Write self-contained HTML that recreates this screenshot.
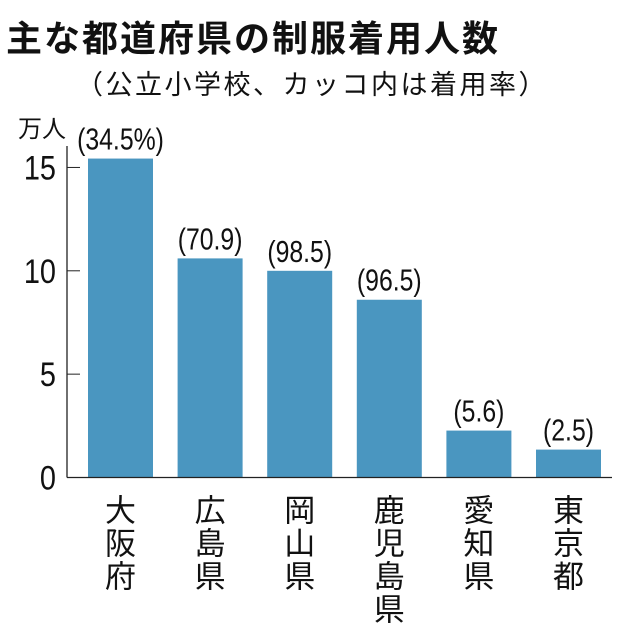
<!DOCTYPE html>
<html><head><meta charset="utf-8"><style>
body{margin:0;background:#fff;}
svg text{font-family:"Liberation Sans","Noto Sans CJK JP",sans-serif;fill:#111;}
</style></head><body>
<svg width="630" height="630">
<text x="6" y="51" font-size="36" font-weight="bold" letter-spacing="2">主な都道府県の制服着用人数</text>
<text x="76" y="94" font-size="27" letter-spacing="2.5">（公立小学校、カッコ内は着用率）</text>
<text x="18" y="137" font-size="24">万人</text>
<g id="plot"></g>
</svg>
<script>
const categories=["大阪府","広島県","岡山県","鹿児島県","愛知県","東京都"];
const values=[15.43,10.6,10.0,8.6,2.27,1.35];
const rates=["(34.5%)","(70.9)","(98.5)","(96.5)","(5.6)","(2.5)"];
const ticks=[0,5,10,15];
const NS="http://www.w3.org/2000/svg";
const g=document.getElementById('plot');
const y0=477.5,k=20.67,x0=67;
const y=v=>y0-v*k;
const xc=i=>120.5+i*89.6;
function mk(t,a,txt){const e=document.createElementNS(NS,t);for(const n in a)e.setAttribute(n,a[n]);if(txt!=null)e.textContent=txt;g.appendChild(e);return e;}
values.forEach((v,i)=>{
 const b=mk('rect',{x:xc(i)-32.5,y:y(v),width:65,height:y0-y(v),fill:'#4a96c0'});
 
 
 const t=mk('text',{transform:`translate(${xc(i)},${y(v)-9}) scale(0.8,1)`,'font-size':31,'text-anchor':'middle'},rates[i]);
 
 
 [...categories[i]].forEach((ch,j)=>{
  const c=mk('text',{x:xc(i),y:y0+44+j*33,'font-size':31,'text-anchor':'middle'},ch);
  
  
 });
});
ticks.forEach(v=>{
 const l=mk('line',{x1:x0,x2:x0+13,y1:y(v),y2:y(v),stroke:'#222','stroke-width':1});
 
 
 const t=mk('text',{transform:`translate(${x0-11},${y(v)+12}) scale(0.85,1)`,'font-size':34,'text-anchor':'end'},String(v));
 
 
});
const ax=mk('line',{x1:x0,x2:x0,y1:146,y2:y0,stroke:'#222','stroke-width':1.3});


const bx=mk('line',{x1:x0,x2:612,y1:y0,y2:y0,stroke:'#222','stroke-width':1.3});


</script>
</body></html>
